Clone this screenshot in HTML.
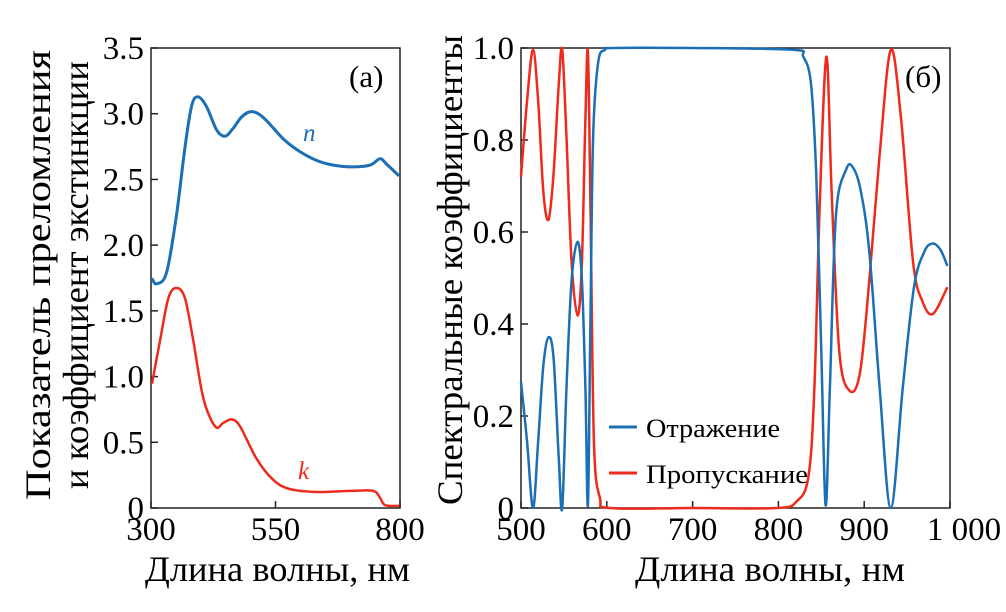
<!DOCTYPE html>
<html><head><meta charset="utf-8">
<style>
body{margin:0;background:#fff;}
svg{display:block;font-family:"Liberation Serif",serif;}
</style></head>
<body>
<svg width="1006" height="612" viewBox="0 0 1006 612">
<g id="pa"></g>
<g id="pb"></g>
</svg>
<script>
// Panel (a) data
const aN_x=[302,311,331,351,368,382,395,412,432,449,465,482,502,526,566,599,633,666,706,740,760,773,798];
const aN_y=[1.747,1.706,1.788,2.223,2.739,3.065,3.128,3.05,2.875,2.829,2.889,2.975,3.016,2.97,2.807,2.712,2.644,2.609,2.595,2.609,2.657,2.617,2.527];
const aK_x=[302,318,335,351,368,385,405,429,445,462,479,512,546,579,633,700,746,760,770,798];
const aK_y=[0.946,1.272,1.598,1.674,1.598,1.272,0.837,0.62,0.647,0.674,0.62,0.375,0.212,0.144,0.122,0.13,0.13,0.076,0.022,0.016];
const aYTicks=["0","0.5","1.0","1.5","2.0","2.5","3.0","3.5"];
const aXTicks=[300,550,800];
// Panel (b) data
const bR_x=[500,507,514,520,526,532,538,544,548,553,559,566,571,575,578,581,584,590,598,608,700,817,829,838,844,850,855,860,867,879,887,896,906,918,931,945,958,970,980,989,997];
const bR_y=[.274,.146,0,.146,.309,.371,.325,.107,0,.262,.495,.579,.495,.262,.006,.418,.806,.969,.996,1.0,1.0,.996,.981,.922,.728,.34,.006,.262,.635,.736,.74,.689,.557,.262,0,.262,.48,.557,.575,.561,.526];
const bT_x=[500,507,514,520,526,532,538,544,548,553,559,566,571,575,578,581,585,592,604,700,798,821,835,842,848,856,862,871,883,895,906,918,931,943,957,968,980,997];
const bT_y=[.72,.884,.996,.884,.689,.627,.728,.922,.996,.806,.534,.418,.534,.845,.992,.651,.146,.022,0,0,0,.014,.068,.262,.651,.981,.689,.34,.255,.293,.495,.767,.996,.845,.534,.449,.422,.48];
const bYTicks=["0","0.2","0.4","0.6","0.8","1.0"];
const bXTicks=["500","600","700","800","900","1 000"];

const NS="http://www.w3.org/2000/svg";
function mk(parent,tag,attrs,text){const e=document.createElementNS(NS,tag);for(const k in attrs)e.setAttribute(k,attrs[k]);if(text!==undefined)e.textContent=text;parent.appendChild(e);return e;}
function smoothPath(pts){let d="M"+pts[0][0].toFixed(1)+","+pts[0][1].toFixed(1);
 for(let i=0;i<pts.length-1;i++){const p0=pts[Math.max(0,i-1)],p1=pts[i],p2=pts[i+1],p3=pts[Math.min(pts.length-1,i+2)];
 const c1=[p1[0]+(p2[0]-p0[0])/6,p1[1]+(p2[1]-p0[1])/6],c2=[p2[0]-(p3[0]-p1[0])/6,p2[1]-(p3[1]-p1[1])/6];
 d+="C"+c1[0].toFixed(1)+","+c1[1].toFixed(1)+" "+c2[0].toFixed(1)+","+c2[1].toFixed(1)+" "+p2[0].toFixed(1)+","+p2[1].toFixed(1);}return d;}
const BLUE="#1a6fb5",RED="#ee2a1b";
const T=48,B=508;
const TF=33;

// Panel a
const pa=document.getElementById('pa');
const aL=151,aR=400;
const axA=v=>aL+(v-300)/500*(aR-aL), ayA=v=>B-v/3.5*(B-T);
let r=mk(pa,'rect',{x:aL,y:T,width:aR-aL,height:B-T,fill:'none',stroke:'#222','stroke-width':1.5});

aYTicks.forEach((t,i)=>{const y=ayA(parseFloat(t));
 let l=mk(pa,'line',{x1:aL,x2:aL+7,y1:y,y2:y,stroke:'#222','stroke-width':1.5});
 
 let tx=mk(pa,'text',{x:aL-7,y:y+11,'text-anchor':'end','font-size':TF},t);
 });
aXTicks.forEach(t=>{const x=axA(t);
 let l=mk(pa,'line',{x1:x,x2:x,y1:B,y2:B-7,stroke:'#222','stroke-width':1.5});
 
 let tx=mk(pa,'text',{x:x,y:B+32,'text-anchor':'middle','font-size':TF},String(t));
 });
let p=mk(pa,'path',{d:smoothPath(aN_x.map((v,i)=>[axA(v),ayA(aN_y[i])])),fill:'none',stroke:BLUE,'stroke-width':3});

p=mk(pa,'path',{d:smoothPath(aK_x.map((v,i)=>[axA(v),ayA(aK_y[i])])),fill:'none',stroke:RED,'stroke-width':2.5});

let t1=mk(pa,'text',{x:349,y:87,'font-size':31},'(a)');
t1=mk(pa,'text',{x:303,y:141,'font-size':25,'font-style':'italic',fill:BLUE},'n');
t1=mk(pa,'text',{x:298,y:479,'font-size':25,'font-style':'italic',fill:RED},'k');
t1=mk(pa,'text',{x:145,y:581,'font-size':36,textLength:265,lengthAdjust:'spacingAndGlyphs'},'Длина волны, нм');
t1=mk(pa,'text',{transform:'translate(50,275) rotate(-90)','text-anchor':'middle','font-size':36,textLength:450,lengthAdjust:'spacingAndGlyphs'},'Показатель преломления');
t1=mk(pa,'text',{transform:'translate(88,275) rotate(-90)','text-anchor':'middle','font-size':36,textLength:428,lengthAdjust:'spacingAndGlyphs'},'и коэффициент экстинкции');

// Panel b
const pb=document.getElementById('pb');
const bL=521,bRt=950;
const axB=v=>bL+(v-500)/500*(bRt-bL), ayB=v=>B-v*(B-T);
r=mk(pb,'rect',{x:bL,y:T,width:bRt-bL,height:B-T,fill:'none',stroke:'#222','stroke-width':1.5});

bYTicks.forEach(t=>{const y=ayB(parseFloat(t));
 let l=mk(pb,'line',{x1:bL,x2:bL+7,y1:y,y2:y,stroke:'#222','stroke-width':1.5});
 
 let tx=mk(pb,'text',{x:bL-7,y:y+11,'text-anchor':'end','font-size':TF},t);
 });
bXTicks.forEach(t=>{const x=axB(parseFloat(t.replace(' ','')));
 let l=mk(pb,'line',{x1:x,x2:x,y1:B,y2:B-7,stroke:'#222','stroke-width':1.5});
 
 let tx=mk(pb,'text',{x:x+(t.length>3?14:0),y:B+32,'text-anchor':'middle','font-size':TF},t);
 });
p=mk(pb,'path',{d:smoothPath(bT_x.map((v,i)=>[axB(v),ayB(bT_y[i])])),fill:'none',stroke:RED,'stroke-width':2.5});

p=mk(pb,'path',{d:smoothPath(bR_x.map((v,i)=>[axB(v),ayB(bR_y[i])])),fill:'none',stroke:BLUE,'stroke-width':2.5});

let lg=mk(pb,'line',{x1:609,x2:637,y1:427,y2:427,stroke:BLUE,'stroke-width':3});
lg=mk(pb,'text',{x:646,y:428+9,'font-size':26,textLength:134,lengthAdjust:'spacingAndGlyphs'},'Отражение');
lg=mk(pb,'line',{x1:609,x2:637,y1:473,y2:473,stroke:RED,'stroke-width':3});
lg=mk(pb,'text',{x:646,y:474+9,'font-size':26,textLength:162,lengthAdjust:'spacingAndGlyphs'},'Пропускание');
t1=mk(pb,'text',{x:905,y:87,'font-size':31},'(б)');
t1=mk(pb,'text',{x:635,y:581,'font-size':36,textLength:270,lengthAdjust:'spacingAndGlyphs'},'Длина волны, нм');
t1=mk(pb,'text',{transform:'translate(462,270) rotate(-90)','text-anchor':'middle','font-size':36,textLength:470,lengthAdjust:'spacingAndGlyphs'},'Спектральные коэффициенты');
</script>
</body></html>
